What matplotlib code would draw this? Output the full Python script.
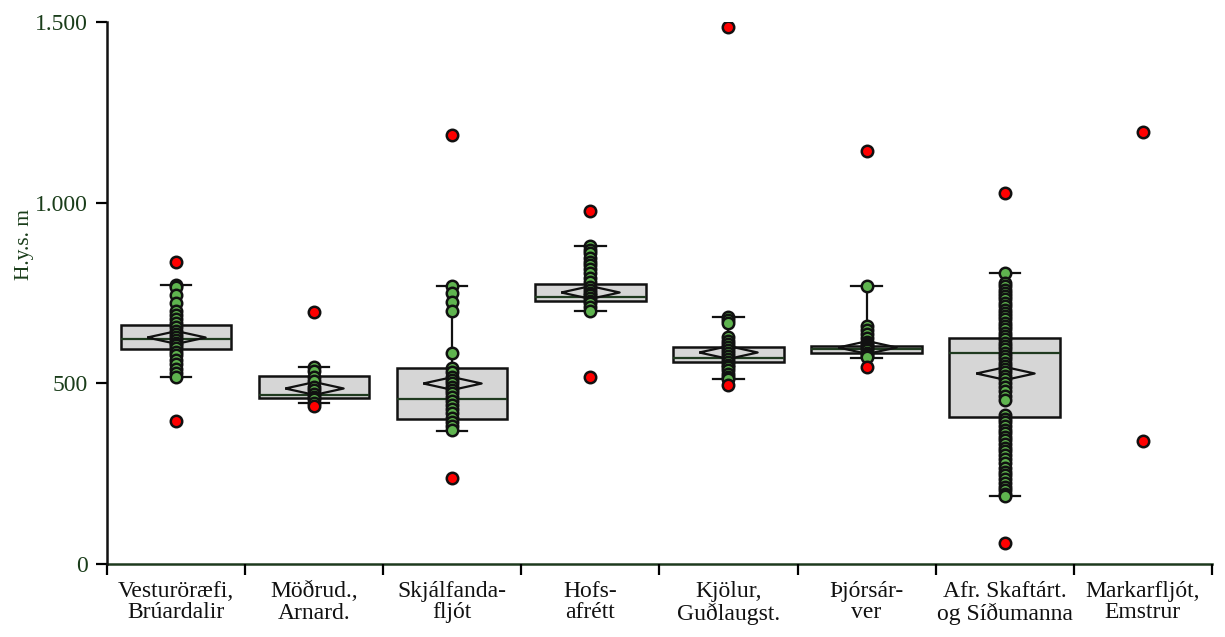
import matplotlib
matplotlib.use("Agg")
import matplotlib.pyplot as plt

plt.rcParams['font.family'] = ['Liberation Serif', 'DejaVu Serif']

labels = ["Vesturöræfi,\nBrúardalir", "Möðrud.,\nArnard.", "Skjálfanda-\nfljót", "Hofs-\nafrétt",
          "Kjölur,\nGuðlaugst.", "Þjórsár-\nver", "Afr. Skaftárt.\nog Síðumanna", "Markarfljót,\nEmstrur"]

# box stats per area (q1, median, q3, lower whisker, upper whisker, mean); Markarfljót has no box
q1 = [595, 459, 401, 728, 560, 585, 408]
med = [623, 469, 457, 740, 569, 594, 583]
q3 = [662, 520, 543, 774, 600, 603, 625]
whislo = [517, 446, 369, 701, 511, 569, 188]
whishi = [772, 545, 769, 880, 684, 770, 806]
means = [628, 487, 502, 754, 588, 600, 529]

# sites inside whiskers (green)
inliers = [
    [772, 767, 745, 723, 700, 690, 678, 668, 657, 646, 636, 628, 620, 612, 605, 597, 588, 578, 565, 553, 540, 528, 517],
    [545, 535, 518, 505, 490, 482, 470, 462, 456, 446],
    [769, 751, 726, 701, 583, 543, 530, 518, 509, 500, 491, 482, 472, 463, 451, 440, 428, 417, 405, 394, 382, 371],
    [880, 870, 860, 848, 837, 826, 815, 805, 792, 779, 766, 758, 751, 744, 736, 729, 722, 712, 701],
    [684, 676, 668, 629, 618, 608, 600, 592, 584, 576, 568, 560, 552, 544, 536, 527, 518, 511],
    [770, 659, 648, 637, 625, 615, 608, 603, 597, 591, 585, 578, 572],
    [806, 777, 768, 759, 750, 741, 732, 723, 713, 704, 695, 686, 677, 667, 658, 649, 640, 631, 622, 612,
     603, 594, 585, 576, 566, 557, 548, 539, 530, 520, 511, 502, 491, 478, 466, 454, 412, 402, 392, 382,
     372, 362, 352, 343, 333, 322, 312, 301, 290, 280, 265, 255, 245, 235, 225, 214, 204, 194, 188],
    [],
]
# outliers (red)
outliers = [[836, 396], [698, 437], [1187, 238], [977, 518], [1486, 495], [1142, 546], [1027, 57], [1196, 340]]

fig = plt.figure(figsize=(12.25, 6.37), dpi=100)
ax = fig.add_axes([0.0873, 0.1146, 0.902, 0.851])

stats = []
for i in range(len(q1)):
    stats.append(dict(q1=q1[i], med=med[i], q3=q3[i], whislo=whislo[i], whishi=whishi[i],
                      mean=means[i], fliers=[]))

diamond = [(-1, 0), (0, 0.22), (1, 0), (0, -0.22), (-1, 0)]
ax.bxp(stats, positions=range(len(q1)), widths=0.8, capwidths=0.22, showmeans=True,
       showfliers=False, patch_artist=True,
       boxprops=dict(facecolor='#d6d6d6', edgecolor='#111111', linewidth=1.8),
       medianprops=dict(color='#1f3a1f', linewidth=1.6),
       whiskerprops=dict(color='#111111', linewidth=1.6),
       capprops=dict(color='#111111', linewidth=1.6),
       meanprops=dict(marker=diamond, markersize=42, markerfacecolor='none',
                      markeredgecolor='#111111', markeredgewidth=1.6))

for i, vals in enumerate(inliers):
    ax.scatter([i] * len(vals), vals, s=68, color='#5fb44f', edgecolors='#111111',
               linewidths=1.8, zorder=5)
for i, vals in enumerate(outliers):
    ax.scatter([i] * len(vals), vals, s=68, color='#ff0000', edgecolors='#111111',
               linewidths=1.8, zorder=5)

ax.set_xlim(-0.5, len(labels) - 0.5)
ax.set_ylim(0, 1500)
ax.set_yticks([0, 500, 1000, 1500])
ax.set_yticklabels(['0', '500', '1.000', '1.500'], fontsize=17, color='#1a3d1a')
ax.set_ylabel('H.y.s. m', fontsize=15.5, color='#1a3d1a')
ax.yaxis.set_label_coords(-0.066, 0.59)

ax.set_xticks(range(len(labels)))
ax.set_xticklabels(labels, fontsize=17, color='#111111', linespacing=1.05)
ax.set_xticks([i - 0.5 for i in range(len(labels) + 1)], minor=True)
ax.tick_params(axis='x', which='major', length=0, pad=12)
ax.tick_params(axis='x', which='minor', length=8, width=1.6, direction='out')
ax.tick_params(axis='y', length=8, width=1.6, direction='out', pad=6)

for s in ['top', 'right']:
    ax.spines[s].set_visible(False)
ax.spines['left'].set_linewidth(1.8)
ax.spines['bottom'].set_linewidth(1.8)
ax.spines['left'].set_color('#111111')
ax.spines['bottom'].set_color('#1e3a1e')
ax.spines['bottom'].set_zorder(1)

fig.savefig('out.png', dpi=100)
